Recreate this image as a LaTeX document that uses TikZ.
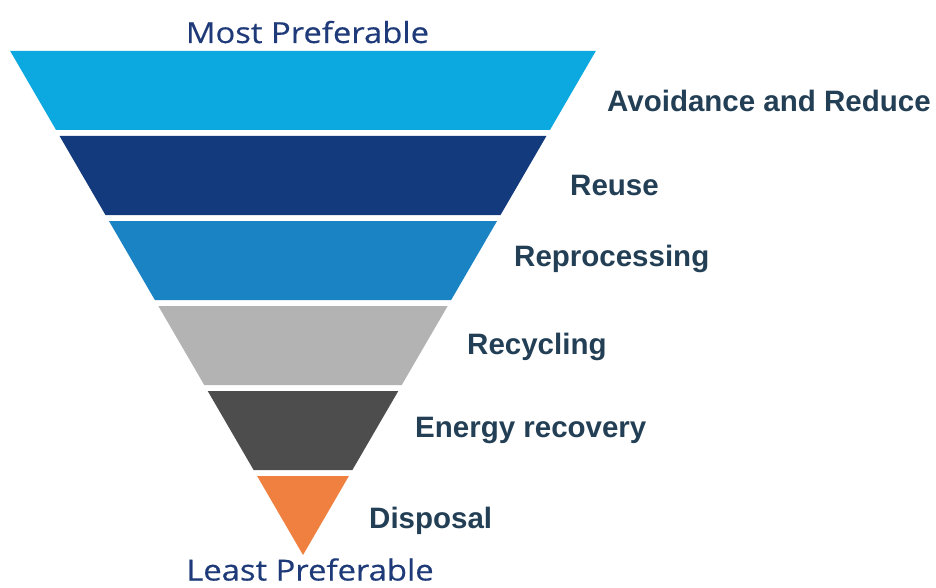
\documentclass[tikz,border=0pt]{standalone}
\usepackage{fontspec}
\newfontfamily\labfont{Liberation Sans}
\newfontfamily\ttlfont[FakeStretch=1.13,FakeBold=0.4]{Open Sans}
\definecolor{cA}{HTML}{0BA9E0}
\definecolor{cB}{HTML}{143A7E}
\definecolor{cC}{HTML}{1A83C4}
\definecolor{cD}{HTML}{B3B3B3}
\definecolor{cE}{HTML}{4D4D4D}
\definecolor{cF}{HTML}{F08040}
\definecolor{labcol}{HTML}{233F55}
\definecolor{ttlcol}{HTML}{1E3A78}
\begin{document}
\begin{tikzpicture}[x=1pt,y=-1pt,
  lab/.style={anchor=west,inner sep=0pt,text=labcol,font=\labfont\bfseries\fontsize{29.5}{29.5}\selectfont},
  ttl/.style={anchor=base,inner sep=0pt,text=ttlcol,font=\ttlfont\fontsize{29}{29}\selectfont}]
\useasboundingbox (0,0) rectangle (936,588);
\foreach \i/\c in {0/cA,1/cB,2/cC,3/cD,4/cE,5/cF}{
  \pgfmathsetmacro\tp{51+85*\i}
  \pgfmathsetmacro\bt{\tp+79}
  \pgfmathsetmacro\ht{(555-\tp)*0.581}
  \pgfmathsetmacro\hb{(555-\bt)*0.581}
  \fill[\c] (303-\ht,\tp) -- (303+\ht,\tp) -- (303+\hb,\bt) -- (303-\hb,\bt) -- cycle;
}
\node[ttl] (most) at (307.5,43) {Most Preferable};
\node[ttl] (least) at (310,580.5) {Least Preferable};
\node[lab] (l1) at (607,101) {Avoidance and Reduce};
\node[lab] (l2) at (570,185) {Reuse};
\node[lab] (l3) at (514,259) {Reprocessing};
\node[lab] (l4) at (467,347) {Recycling};
\node[lab] (l5) at (415,430) {Energy recovery};
\node[lab] (l6) at (369,521) {Disposal};
\end{tikzpicture}
\end{document}
